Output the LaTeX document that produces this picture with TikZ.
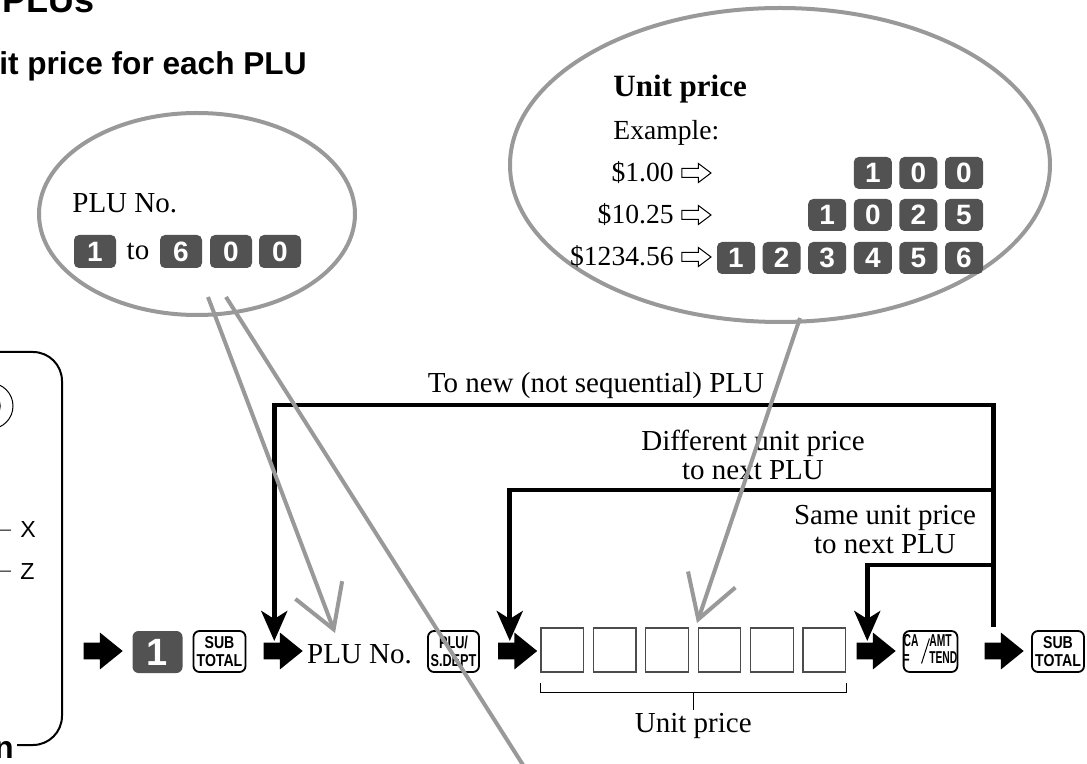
\documentclass[tikz,border=0pt]{standalone}
\usepackage{fontspec}
\setmainfont{Liberation Serif}
\setsansfont{Liberation Sans}
\usetikzlibrary{positioning,calc,arrows.meta,shapes.arrows}

\tikzset{
  lbl/.style={inner sep=0pt, font=\fontsize{14.5}{14.5}\selectfont},
  keydark/.style={fill=black!68, rounded corners=2.5pt, text=white, inner sep=0pt,
    minimum width=19pt, minimum height=16pt, font=\sffamily\bfseries\fontsize{14}{14}\selectfont},
  bigkey/.style={keydark, minimum width=25pt, minimum height=21pt, rounded corners=3pt,
    font=\sffamily\bfseries\fontsize{19}{19}\selectfont},
  fnkey/.style={draw, line width=0.9pt, rounded corners=3pt, inner sep=0pt, align=center,
    minimum width=26pt, minimum height=20.5pt, font=\sffamily\bfseries\fontsize{8.6}{8.8}\selectfont},
  blockarrow/.style={single arrow, fill=black, inner xsep=0pt, inner ysep=4pt, minimum height=19.5pt,
    minimum width=18pt, single arrow head extend=5pt, single arrow tip angle=78},
  openarrow/.style={single arrow, draw, line width=0.5pt, inner xsep=0pt, inner ysep=2pt,
    minimum height=14.5pt, minimum width=9pt, single arrow head extend=2.5pt, single arrow tip angle=74},
  slot/.style={draw=black!70, line width=0.6pt, minimum width=21.25pt, minimum height=22pt, inner sep=0pt},
  flow/.style={line width=2.3pt, -{Stealth[length=15pt, width=13pt, inset=4pt]}},
  bubble/.style={draw=black!40, line width=2pt},
  pointer/.style={draw=black!40, line width=2pt, -{Straight Barb[length=21pt, width=25pt]}},
}

\begin{document}
\begin{tikzpicture}[x=0.5pt, y=-0.5pt]
\useasboundingbox (0,0) rectangle (1087,764);
\clip (0,0) rectangle (1087,764);

% headings (cut at the edge)
\node[anchor=base east, inner sep=0pt, font=\sffamily\bfseries\fontsize{18}{18}\selectfont] (head) at (95,13) {PLUs};
\node[anchor=base east, inner sep=0pt, font=\sffamily\bfseries\fontsize{15.8}{16}\selectfont] (subhead) at (307,75) {it price for each PLU};

% left panel
\draw[line width=1pt, rounded corners=14.5pt] (0,352) -- (62,352) -- (62,745) -- (17,745);
\draw[line width=0.5pt] (-10,406) ellipse [x radius=23, y radius=23];
\fill[black!68] (-10,406) ellipse [x radius=11, y radius=11];
\node[anchor=base west, inner sep=0pt, inner xsep=4.5pt, font=\sffamily\fontsize{11.6}{12}\selectfont] (xlab) at (11,538) {X};
\node[anchor=base west, inner sep=0pt, inner xsep=4.5pt, font=\sffamily\fontsize{11.6}{12}\selectfont] (zlab) at (11,579) {Z};
\draw[line width=0.5pt] (0,530) -- (xlab.west);
\draw[line width=0.5pt] (0,571) -- (zlab.west);
\node[anchor=base east, inner sep=0pt, font=\sffamily\bfseries\fontsize{15.8}{16}\selectfont] (tail) at (14,758) {n};

% bubble: PLU number
\draw[bubble] (197,214) ellipse [x radius=158, y radius=101];
\node[lbl, anchor=base west] (pluno) at (72,213) {PLU No.};
\node[keydark, minimum width=21pt, minimum height=16.5pt] (b1) at (95,251.5) {1};
\node[lbl, anchor=base] (to) at (138,260) {to};
\node[keydark, minimum width=21pt, minimum height=16.5pt] (b6) at (181,251.5) {6};
\node[keydark, minimum width=21pt, minimum height=16.5pt] (b0) at (231,251.5) {0};
\node[keydark, minimum width=21pt, minimum height=16.5pt] (b00) at (280,251.5) {0};

% bubble: unit price
\draw[bubble] (780,165) ellipse [x radius=270, y radius=157];
\node[lbl, anchor=base west, font=\bfseries\fontsize{15.5}{16}\selectfont] (uphead) at (613,97) {Unit price};
\node[lbl, anchor=base west, font=\fontsize{13.8}{14}\selectfont] (ex) at (613,140) {Example:};
\foreach \price/\yb/\n in {{\$1.00}/182/1, {\$10.25}/224/2, {\$1234.56}/266/3} {
  \node[lbl, anchor=base east, font=\fontsize{13.8}{14}\selectfont] (pr\n) at (674,\yb) {\price};
  \node[openarrow] (oa\n) at (693.5,\yb-9) {};
}
\foreach \d [count=\c from 4] in {1,0,0}
  \node[keydark] (ka\c) at ({736+(\c-1)*45.6},173) {\d};
\foreach \d [count=\c from 3] in {1,0,2,5}
  \node[keydark] (kb\c) at ({736+(\c-1)*45.6},215) {\d};
\foreach \d [count=\c] in {1,2,3,4,5,6}
  \node[keydark] (kc\c) at ({736+(\c-1)*45.6},258) {\d};

% key sequence
\node[blockarrow] (a1) at (98,651) {};
\node[bigkey] (k1) at (157.5,652) {1};
\node[fnkey] (st1) at (219.5,651.5) {\scalebox{.82}[1]{SUB}\\\scalebox{.82}[1]{TOTAL}};
\node[blockarrow] (a2) at (278,651) {};
\node[lbl, anchor=base] (pluin) at (359.5,663) {PLU No.};
\node[fnkey, minimum width=25.5pt] (dept) at (453.5,651.5) {\scalebox{.74}[1]{PLU/}\\\scalebox{.74}[1]{S.DEPT}};
\node[blockarrow] (a3) at (512.5,651) {};
\foreach \i in {1,...,6}
  \node[slot] (s\i) at ({562.3+(\i-1)*52.4},650) {};
\node[blockarrow] (a4) at (871,651) {};
\node[fnkey] (ca) at (930.5,651.5) {\scalebox{.6}[1]{\begin{tabular}{@{}l@{\hspace{9pt}}l@{}}CA&AMT\\=&TEND\end{tabular}}};
\draw[line width=0.5pt] ($(ca.center)+(-9,12)$) -- ($(ca.center)+(-1,-13)$);
\node[blockarrow] (a5) at (999,651) {};
\node[fnkey] (st2) at (1058,651.5) {\scalebox{.82}[1]{SUB}\\\scalebox{.82}[1]{TOTAL}};

% brace under the price digits
\draw[line width=0.6pt] ($(s1.south west)+(0,10)$) -- ++(0,10) -| ($(s6.south east)+(0,10)$);
\draw[line width=0.6pt] ($(s1.south west)!0.5!(s6.south east)+(0,20)$) -- ++(0,17) coordinate (tick);
\node[lbl, anchor=base] (uplabel) at (tick |- 0,732) {Unit price};

% loops back
\coordinate (retR) at ($(a5.west)+(9,-24)$);
\coordinate (midR) at (retR |- 0,490);
\coordinate (inR) at (retR |- 0,565);
\coordinate (in2) at ($(a2.west)+(11,-10)$);
\coordinate (in3) at ($(a3.west)+(12,-10)$);
\coordinate (in4) at ($(a4.west)+(11,-10)$);
\draw[flow] (retR) -- ++(0,-222) -| (in2);
\draw[flow] (midR) -| (in3);
\draw[flow] (inR) -| (in4);
\node[lbl, anchor=base] (lnew) at (596,393) {To new (not sequential) PLU};
\node[lbl, anchor=base, align=center] (ldiff) at (753,480) {Different unit price\\to next PLU};
\node[lbl, anchor=base, align=center] (lsame) at (885,553) {Same unit price\\to next PLU};

% callout pointers
\coordinate (pA) at (208,297);
\coordinate (tipA) at (335,633);
\coordinate (pB) at (226,297);
\coordinate (endB) at (530,776);
\coordinate (pC) at (800,318);
\coordinate (tipC) at (697,623);
\draw[pointer] (pA) -- (tipA);
\draw[bubble] (pB) -- (endB);
\draw[pointer] (pC) -- (tipC);
\end{tikzpicture}
\end{document}
